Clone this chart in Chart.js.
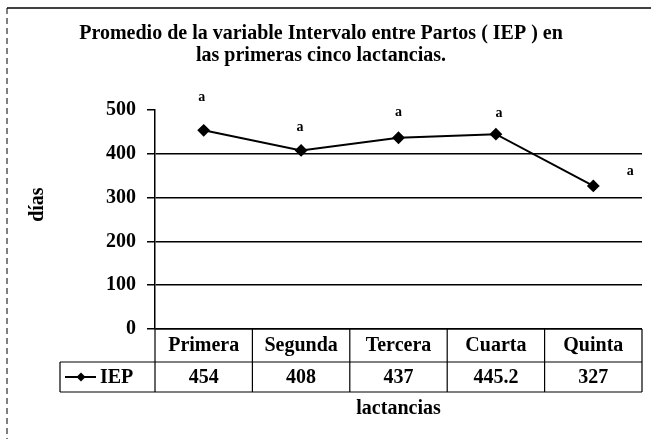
<!DOCTYPE html>
<html>
<head>
<meta charset="utf-8">
<script src="https://cdn.jsdelivr.net/npm/chart.js@4.4.0/dist/chart.umd.min.js"></script>
<style>
  html, body { margin: 0; padding: 0; background: #fff; }
  #wrap { width: 651px; height: 439px; position: relative; }
</style>
</head>
<body>
<div id="wrap"><canvas id="iep-chart"></canvas></div>
<script>
const categories = ['Primera', 'Segunda', 'Tercera', 'Cuarta', 'Quinta'];
const iepValues = [454, 408, 437, 445.2, 327];
const iepLabels = ['454', '408', '437', '445.2', '327'];
const significance = ['a', 'a', 'a', 'a', 'a'];
const seriesName = 'IEP';
const yMin = 0;
const yMax = 500;
const yStep = 100;

const FONT = '"Liberation Serif", "Times New Roman", serif';
// where each "a" sits relative to its point (style only)
const letterOffsets = [[-2, -33], [-1, -23], [0, -25], [3, -21], [37, -15]];

const frame = {
    id: 'frame',
    afterDraw(chart) {
        const ctx = chart.ctx;
        ctx.save();
        ctx.strokeStyle = '#000';
        ctx.lineWidth = 1.5;
        ctx.beginPath();
        ctx.moveTo(7, 8);
        ctx.lineTo(chart.width, 8);
        ctx.stroke();
        ctx.lineWidth = 1;
        ctx.setLineDash([6, 4]);
        ctx.beginPath();
        ctx.moveTo(7, 8);
        ctx.lineTo(7, chart.height);
        ctx.stroke();
        ctx.restore();
    }
};

const dataTable = {
    id: 'dataTable',
    afterDraw(chart) {
        const ctx = chart.ctx;
        const area = chart.chartArea;
        const x = chart.scales.x;
        const colW = (area.right - area.left) / categories.length;
        const top = area.bottom;
        const mid = top + 33;
        const bot = top + 63;
        const legendLeft = 60;

        ctx.save();
        ctx.strokeStyle = '#000';
        ctx.lineWidth = 1.2;
        ctx.beginPath();
        ctx.moveTo(area.left, top); ctx.lineTo(area.right, top);
        ctx.moveTo(legendLeft, mid); ctx.lineTo(area.right, mid);
        ctx.moveTo(legendLeft, bot); ctx.lineTo(area.right, bot);
        ctx.moveTo(legendLeft, mid); ctx.lineTo(legendLeft, bot);
        ctx.moveTo(area.left, top); ctx.lineTo(area.left, bot);
        categories.forEach((c, i) => {
            const r = x.getPixelForValue(i) + colW / 2;
            ctx.moveTo(r, top); ctx.lineTo(r, bot);
        });
        ctx.stroke();

        ctx.fillStyle = '#000';
        ctx.font = 'bold 20px ' + FONT;
        ctx.textAlign = 'center';
        ctx.textBaseline = 'middle';
        const rowY = (mid + bot) / 2;
        iepLabels.forEach((v, i) => {
            ctx.fillText(v, x.getPixelForValue(i), rowY + 1);
        });

        // legend key
        ctx.lineWidth = 2;
        ctx.beginPath();
        ctx.moveTo(legendLeft + 5, rowY); ctx.lineTo(legendLeft + 36, rowY);
        ctx.stroke();
        ctx.beginPath();
        ctx.moveTo(legendLeft + 21, rowY - 4.5);
        ctx.lineTo(legendLeft + 25.5, rowY);
        ctx.lineTo(legendLeft + 21, rowY + 4.5);
        ctx.lineTo(legendLeft + 16.5, rowY);
        ctx.closePath();
        ctx.fill();
        ctx.textAlign = 'left';
        ctx.fillText(seriesName, legendLeft + 40, rowY + 1);
        ctx.restore();
    }
};

const letters = {
    id: 'letters',
    afterDatasetsDraw(chart) {
        const ctx = chart.ctx;
        const pts = chart.getDatasetMeta(0).data;
        ctx.save();
        ctx.fillStyle = '#000';
        ctx.font = 'bold 14px ' + FONT;
        ctx.textAlign = 'center';
        ctx.textBaseline = 'middle';
        pts.forEach((p, i) => {
            const o = letterOffsets[i];
            ctx.fillText(significance[i], p.x + o[0], p.y + o[1]);
        });
        ctx.restore();
    }
};

const ctx = document.getElementById('iep-chart').getContext('2d');
const iepChart = new Chart(ctx, {
    type: 'line',
    data: {
        labels: categories,
        datasets: [{
            label: seriesName,
            data: iepValues,
            borderColor: '#000',
            backgroundColor: '#000',
            borderWidth: 2,
            pointStyle: 'rectRot',
            pointRadius: 5,
            pointHoverRadius: 5,
            tension: 0,
            fill: false
        }]
    },
    options: {
        responsive: true,
        maintainAspectRatio: false,
        animation: false,
        layout: { padding: { left: 0, right: 9, top: 0, bottom: 0 } },
        plugins: {
            legend: { display: false },
            tooltip: { enabled: false },
            title: {
                display: true,
                text: ['Promedio de la variable Intervalo entre Partos ( IEP ) en',
                       'las primeras cinco lactancias.'],
                color: '#000',
                font: { family: FONT, size: 20, weight: 'bold', lineHeight: 1.08 },
                padding: { top: 23, bottom: 44 }
            }
        },
        scales: {
            x: {
                type: 'category',
                offset: true,
                grid: { display: false, drawTicks: false },
                border: { display: false },
                ticks: {
                    color: '#000',
                    padding: 5,
                    font: { family: FONT, size: 20, weight: 'bold' }
                },
                title: {
                    display: true,
                    text: 'lactancias',
                    color: '#000',
                    font: { family: FONT, size: 20, weight: 'bold', lineHeight: 1.2 },
                    padding: { top: 0, bottom: 18 }
                },
                afterFit(scale) { scale.height = 110; }
            },
            y: {
                min: yMin,
                max: yMax,
                ticks: {
                    stepSize: yStep,
                    color: '#000',
                    padding: 11,
                    font: { family: FONT, size: 20, weight: 'bold' }
                },
                grid: {
                    color: c => (c.tick && c.tick.value === yMax) ? 'rgba(0,0,0,0)' : '#000',
                    tickColor: '#000',
                    lineWidth: 1.5,
                    tickLength: 8
                },
                border: { display: true, color: '#000', width: 1.5 },
                title: {
                    display: true,
                    text: '      días',
                    color: '#000',
                    font: { family: FONT, size: 20, weight: 'bold', lineHeight: 1.2 },
                    padding: { top: 26, bottom: 0 }
                },
                afterFit(scale) { scale.width = 155; }
            }
        }
    },
    plugins: [frame, dataTable, letters]
});
</script>
</body>
</html>
